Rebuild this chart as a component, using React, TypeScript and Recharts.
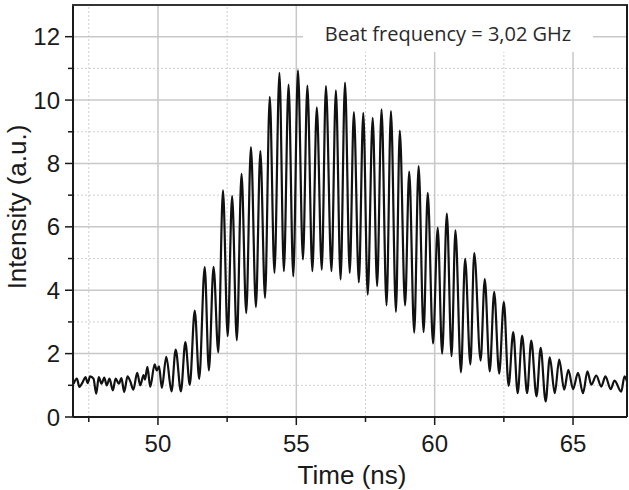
import { LineChart, Line, XAxis, YAxis, ReferenceLine } from 'recharts';

// noisy baseline before the pulse
const leadTimes = [46.95, 47.07, 47.16, 47.28, 47.38, 47.46, 47.55, 47.67, 47.77, 47.86, 47.96, 48.06, 48.15, 48.25, 48.37, 48.47, 48.59, 48.68, 48.78, 48.9, 49.01, 49.11, 49.25, 49.36, 49.48, 49.53, 49.62, 49.72, 49.88, 49.96, 50.04];
const leadIntensity = [1.05, 1.21, 0.95, 1.1, 1.26, 1.07, 1.28, 1.21, 0.74, 1.26, 1.05, 1.24, 1.0, 1.21, 0.84, 1.21, 1.05, 1.23, 0.79, 1.28, 1.1, 0.86, 1.39, 1.0, 1.32, 1.18, 1.58, 0.95, 1.66, 1.47, 1.6];

// beat maxima
const peakTimes = [50.3, 50.64, 50.99, 51.33, 51.69, 52.01, 52.35, 52.68, 53.02, 53.36, 53.7, 54.04, 54.39, 54.72, 55.06, 55.4, 55.74, 56.07, 56.43, 56.76, 57.08, 57.42, 57.76, 58.08, 58.42, 58.74, 59.08, 59.42, 59.75, 60.11, 60.44, 60.75, 61.1, 61.43, 61.81, 62.15, 62.5, 62.84, 63.16, 63.49, 63.83, 64.16, 64.5, 64.83, 65.18, 65.52];
const peakIntensity = [1.9, 2.13, 2.36, 3.36, 4.73, 4.74, 7.15, 6.97, 7.67, 8.52, 8.39, 10.1, 10.86, 10.49, 10.94, 10.46, 9.77, 10.44, 10.31, 10.55, 9.62, 9.6, 9.44, 9.71, 9.65, 9.04, 7.74, 7.92, 7.07, 5.97, 6.42, 5.89, 4.99, 5.17, 4.35, 3.95, 3.63, 2.68, 2.57, 2.41, 2.18, 1.88, 1.81, 1.49, 1.39, 1.44];

// beat minima
const troughTimes = [50.14, 50.49, 50.83, 51.15, 51.49, 51.84, 52.18, 52.52, 52.85, 53.19, 53.54, 53.87, 54.21, 54.55, 54.89, 55.24, 55.58, 55.92, 56.27, 56.6, 56.93, 57.26, 57.58, 57.92, 58.26, 58.6, 58.93, 59.26, 59.6, 59.94, 60.27, 60.61, 60.95, 61.29, 61.66, 61.99, 62.33, 62.67, 63.0, 63.34, 63.68, 64.01, 64.34, 64.68, 65.0, 65.36];
const troughIntensity = [0.92, 0.81, 0.81, 1.02, 1.2, 1.47, 2.04, 2.55, 2.42, 3.28, 3.47, 3.76, 4.55, 4.6, 4.44, 4.97, 4.6, 4.65, 4.6, 4.34, 4.55, 4.25, 3.86, 4.13, 3.52, 3.32, 3.52, 2.66, 2.68, 2.32, 2.0, 1.92, 1.41, 1.66, 1.78, 1.44, 1.37, 0.98, 0.75, 0.75, 0.65, 0.49, 0.75, 0.86, 0.88, 0.75];

// noisy baseline after the pulse
const tailTimes = [65.66, 65.84, 66.02, 66.17, 66.36, 66.5, 66.74, 66.86, 66.95];
const tailIntensity = [1.02, 1.31, 0.96, 1.28, 0.88, 1.15, 0.8, 1.28, 1.12];

const timeTicks = [47.5, 50, 52.5, 55, 57.5, 60, 62.5, 65];
const timeLabels = [50, 55, 60, 65];
const timeMinorGrid = [47.5, 52.5, 57.5, 62.5];
const intensityTicks = [0, 1, 2, 3, 4, 5, 6, 7, 8, 9, 10, 11, 12];
const intensityLabels = [0, 2, 4, 6, 8, 10, 12];
const intensityMajorGrid = [2, 4, 6, 8, 10, 12];
const intensityMinorGrid = [1, 3, 5, 7, 9, 11];

const toPoints = (times: number[], values: number[]) =>
  times.map((time, i) => ({ time, intensity: values[i] }));

const trace = [
  ...toPoints(leadTimes, leadIntensity),
  ...toPoints(peakTimes, peakIntensity),
  ...toPoints(troughTimes, troughIntensity),
  ...toPoints(tailTimes, tailIntensity),
].sort((a, b) => a.time - b.time);

const FONT = '"Liberation Sans", Arial, sans-serif';
const INK = '#1a1a1a';

function TimeTick({ x, y, payload }: any) {
  const major = timeLabels.includes(payload.value);
  return (
    <g>
      <line x1={x} y1={y} x2={x} y2={y + (major ? 8 : 5)} stroke={INK} strokeWidth={1.5} />
      {major && (
        <text x={x} y={y + 35} textAnchor="middle" fontFamily={FONT} fontSize={24} fill={INK}>
          {payload.value}
        </text>
      )}
    </g>
  );
}

function IntensityTick({ x, y, payload }: any) {
  const major = intensityLabels.includes(payload.value);
  return (
    <g>
      <line x1={x} y1={y} x2={x - (major ? 8 : 5)} y2={y} stroke={INK} strokeWidth={1.5} />
      {major && (
        <text x={x - 13} y={y + 8.5} textAnchor="end" fontFamily={FONT} fontSize={24} fill={INK}>
          {payload.value}
        </text>
      )}
    </g>
  );
}

export default function App() {
  return (
    <div style={{ position: 'relative', width: 629, height: 490, overflow: 'hidden', background: '#fff' }}>
      <style>{'body{margin:0}'}</style>
      <LineChart width={629} height={490} data={trace} margin={{ top: 5, right: 2, left: 0, bottom: 0 }}>
        {intensityMinorGrid.map((v) => (
          <ReferenceLine key={`hm${v}`} y={v} stroke="#cfcfcf" strokeWidth={1} strokeDasharray="2 2" />
        ))}
        {timeMinorGrid.map((t) => (
          <ReferenceLine key={`vm${t}`} x={t} stroke="#cfcfcf" strokeWidth={1} strokeDasharray="2 2" />
        ))}
        {intensityMajorGrid.map((v) => (
          <ReferenceLine key={`h${v}`} y={v} stroke="#c8c8c8" strokeWidth={1.5} />
        ))}
        {timeLabels.map((t) => (
          <ReferenceLine key={`v${t}`} x={t} stroke="#c8c8c8" strokeWidth={1.5} />
        ))}
        <XAxis
          dataKey="time"
          type="number"
          domain={[46.93, 66.95]}
          allowDataOverflow
          ticks={timeTicks}
          interval={0}
          height={73}
          tickSize={0}
          tickMargin={0}
          tickLine={false}
          tick={(props: any) => <TimeTick {...props} />}
          axisLine={{ stroke: INK, strokeWidth: 2 }}
        />
        <YAxis
          type="number"
          domain={[0, 13]}
          allowDataOverflow
          ticks={intensityTicks}
          interval={0}
          width={73}
          tickSize={0}
          tickMargin={0}
          tickLine={false}
          tick={(props: any) => <IntensityTick {...props} />}
          axisLine={{ stroke: INK, strokeWidth: 2 }}
        />
        <Line
          type="monotone"
          dataKey="intensity"
          stroke="#111"
          strokeWidth={2.2}
          dot={false}
          isAnimationActive={false}
        />
      </LineChart>
      <svg width={629} height={490} style={{ position: 'absolute', left: 0, top: 0, pointerEvents: 'none' }}>
        <rect x={303} y={6} width={290} height={46} fill="#fff" />
        <line x1={72} y1={5} x2={628} y2={5} stroke="#333" strokeWidth={2} />
        <line x1={627} y1={5} x2={627} y2={417} stroke={INK} strokeWidth={2} />
        <text x={448} y={41} textAnchor="middle" fontFamily='"Open Sans", sans-serif' fontSize={20} fill="#2a2a2a">
          Beat frequency = 3,02 GHz
        </text>
        <text x={352} y={484} textAnchor="middle" fontFamily={FONT} fontSize={26} fill={INK}>
          Time (ns)
        </text>
        <text x={26} y={207} textAnchor="middle" fontFamily={FONT} fontSize={26} fill={INK} transform="rotate(-90, 26, 207)">
          Intensity (a.u.)
        </text>
      </svg>
    </div>
  );
}
